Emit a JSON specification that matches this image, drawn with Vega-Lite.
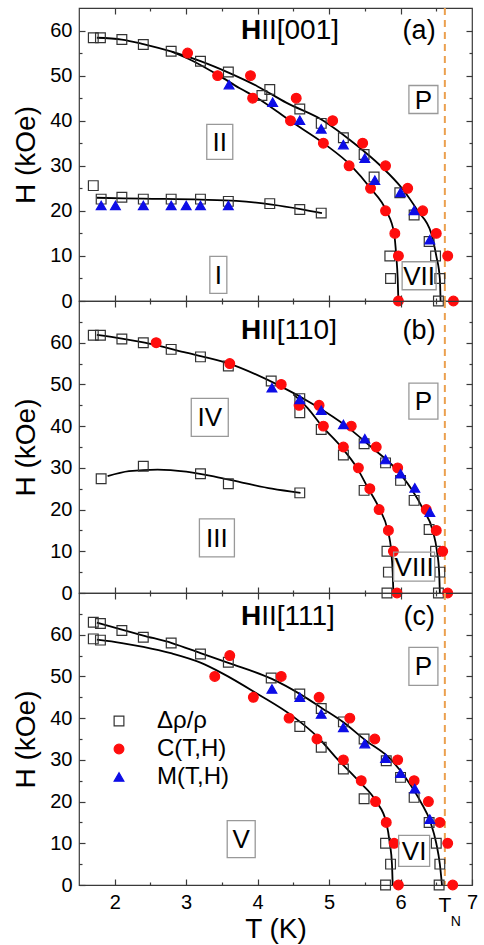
{
  "$schema": "https://vega.github.io/schema/vega-lite/v6.json",
  "background": "white",
  "padding": {"left": 12, "top": 6, "right": 4, "bottom": 4},
  "spacing": 0,
  "bounds": "flush",
  "config": {
    "font": "Liberation Sans",
    "view": {"stroke": "#3a3a3a", "strokeWidth": 1.2},
    "axis": {"grid": false, "domain": false, "labelFont": "Liberation Sans", "titleFont": "Liberation Sans", "labelColor": "#000", "titleColor": "#000", "tickColor": "#3a3a3a", "tickWidth": 1.2, "titleFontWeight": "normal", "labelOverlap": false, "labelFlush": false},
    "text": {"font": "Liberation Sans"}
  },
  "resolve": {"scale": {"y": "independent"}, "axis": {"x": "independent", "y": "independent"}},
  "datasets": {
    "tn": [{"T": 6.62}],
    "pts": [
      {"panel": "a", "series": "Δρ/ρ", "T": 1.70, "H": 58.4}, {"panel": "a", "series": "Δρ/ρ", "T": 1.80, "H": 58.4}, {"panel": "a", "series": "Δρ/ρ", "T": 2.10, "H": 58.0}, {"panel": "a", "series": "Δρ/ρ", "T": 2.40, "H": 56.9}, {"panel": "a", "series": "Δρ/ρ", "T": 2.79, "H": 55.4}, {"panel": "a", "series": "Δρ/ρ", "T": 3.20, "H": 53.2}, {"panel": "a", "series": "Δρ/ρ", "T": 3.59, "H": 50.8}, {"panel": "a", "series": "Δρ/ρ", "T": 4.06, "H": 45.6}, {"panel": "a", "series": "Δρ/ρ", "T": 4.17, "H": 46.9}, {"panel": "a", "series": "Δρ/ρ", "T": 4.59, "H": 42.6}, {"panel": "a", "series": "Δρ/ρ", "T": 4.89, "H": 39.4}, {"panel": "a", "series": "Δρ/ρ", "T": 5.20, "H": 36.2}, {"panel": "a", "series": "Δρ/ρ", "T": 5.49, "H": 32.5}, {"panel": "a", "series": "Δρ/ρ", "T": 5.63, "H": 27.5}, {"panel": "a", "series": "Δρ/ρ", "T": 5.99, "H": 24.0}, {"panel": "a", "series": "Δρ/ρ", "T": 6.19, "H": 19.1}, {"panel": "a", "series": "Δρ/ρ", "T": 6.40, "H": 13.2}, {"panel": "a", "series": "Δρ/ρ", "T": 6.49, "H": 10.0}, {"panel": "a", "series": "Δρ/ρ", "T": 6.55, "H": 5.0}, {"panel": "a", "series": "Δρ/ρ", "T": 6.53, "H": 0}, {"panel": "a", "series": "Δρ/ρ", "T": 5.85, "H": 10.0}, {"panel": "a", "series": "Δρ/ρ", "T": 5.86, "H": 5.0},
      {"panel": "a", "series": "Δρ/ρ", "T": 1.70, "H": 25.6}, {"panel": "a", "series": "Δρ/ρ", "T": 1.81, "H": 22.6}, {"panel": "a", "series": "Δρ/ρ", "T": 2.10, "H": 23.0}, {"panel": "a", "series": "Δρ/ρ", "T": 2.40, "H": 22.6}, {"panel": "a", "series": "Δρ/ρ", "T": 2.79, "H": 22.6}, {"panel": "a", "series": "Δρ/ρ", "T": 3.20, "H": 22.6}, {"panel": "a", "series": "Δρ/ρ", "T": 3.59, "H": 22.1}, {"panel": "a", "series": "Δρ/ρ", "T": 4.17, "H": 21.6}, {"panel": "a", "series": "Δρ/ρ", "T": 4.59, "H": 20.3}, {"panel": "a", "series": "Δρ/ρ", "T": 4.89, "H": 19.5},
      {"panel": "a", "series": "C(T,H)", "T": 3.02, "H": 55}, {"panel": "a", "series": "C(T,H)", "T": 3.44, "H": 50}, {"panel": "a", "series": "C(T,H)", "T": 3.90, "H": 50}, {"panel": "a", "series": "C(T,H)", "T": 3.93, "H": 45}, {"panel": "a", "series": "C(T,H)", "T": 4.54, "H": 45}, {"panel": "a", "series": "C(T,H)", "T": 4.46, "H": 40}, {"panel": "a", "series": "C(T,H)", "T": 5.05, "H": 40}, {"panel": "a", "series": "C(T,H)", "T": 4.92, "H": 35}, {"panel": "a", "series": "C(T,H)", "T": 5.47, "H": 35}, {"panel": "a", "series": "C(T,H)", "T": 5.28, "H": 30}, {"panel": "a", "series": "C(T,H)", "T": 5.79, "H": 30}, {"panel": "a", "series": "C(T,H)", "T": 5.58, "H": 25}, {"panel": "a", "series": "C(T,H)", "T": 6.10, "H": 25}, {"panel": "a", "series": "C(T,H)", "T": 5.79, "H": 20}, {"panel": "a", "series": "C(T,H)", "T": 6.31, "H": 20}, {"panel": "a", "series": "C(T,H)", "T": 5.92, "H": 15}, {"panel": "a", "series": "C(T,H)", "T": 6.50, "H": 15}, {"panel": "a", "series": "C(T,H)", "T": 5.97, "H": 10}, {"panel": "a", "series": "C(T,H)", "T": 6.66, "H": 10}, {"panel": "a", "series": "C(T,H)", "T": 5.97, "H": 0}, {"panel": "a", "series": "C(T,H)", "T": 6.74, "H": 0},
      {"panel": "a", "series": "M(T,H)", "T": 3.60, "H": 48.0}, {"panel": "a", "series": "M(T,H)", "T": 4.21, "H": 44.1}, {"panel": "a", "series": "M(T,H)", "T": 4.59, "H": 40.1}, {"panel": "a", "series": "M(T,H)", "T": 4.89, "H": 38.2}, {"panel": "a", "series": "M(T,H)", "T": 5.20, "H": 34.7}, {"panel": "a", "series": "M(T,H)", "T": 5.50, "H": 31.7}, {"panel": "a", "series": "M(T,H)", "T": 5.64, "H": 26.8}, {"panel": "a", "series": "M(T,H)", "T": 6.00, "H": 24.1}, {"panel": "a", "series": "M(T,H)", "T": 6.19, "H": 20.1}, {"panel": "a", "series": "M(T,H)", "T": 6.41, "H": 13.6},
      {"panel": "a", "series": "M(T,H)", "T": 1.81, "H": 21.2}, {"panel": "a", "series": "M(T,H)", "T": 2.01, "H": 21.2}, {"panel": "a", "series": "M(T,H)", "T": 2.40, "H": 21.2}, {"panel": "a", "series": "M(T,H)", "T": 2.79, "H": 21.2}, {"panel": "a", "series": "M(T,H)", "T": 3.00, "H": 21.2}, {"panel": "a", "series": "M(T,H)", "T": 3.20, "H": 21.2}, {"panel": "a", "series": "M(T,H)", "T": 3.59, "H": 21.2},

      {"panel": "b", "series": "Δρ/ρ", "T": 1.70, "H": 61.8}, {"panel": "b", "series": "Δρ/ρ", "T": 1.80, "H": 61.8}, {"panel": "b", "series": "Δρ/ρ", "T": 2.10, "H": 60.9}, {"panel": "b", "series": "Δρ/ρ", "T": 2.40, "H": 60.0}, {"panel": "b", "series": "Δρ/ρ", "T": 2.79, "H": 58.4}, {"panel": "b", "series": "Δρ/ρ", "T": 3.20, "H": 56.6}, {"panel": "b", "series": "Δρ/ρ", "T": 3.59, "H": 54.4}, {"panel": "b", "series": "Δρ/ρ", "T": 4.19, "H": 50.8}, {"panel": "b", "series": "Δρ/ρ", "T": 4.59, "H": 46.6}, {"panel": "b", "series": "Δρ/ρ", "T": 5.49, "H": 35.8}, {"panel": "b", "series": "Δρ/ρ", "T": 5.79, "H": 31.2}, {"panel": "b", "series": "Δρ/ρ", "T": 6.00, "H": 27.0}, {"panel": "b", "series": "Δρ/ρ", "T": 6.19, "H": 22.2}, {"panel": "b", "series": "Δρ/ρ", "T": 6.40, "H": 15.2}, {"panel": "b", "series": "Δρ/ρ", "T": 6.49, "H": 10.0}, {"panel": "b", "series": "Δρ/ρ", "T": 6.55, "H": 5.0}, {"panel": "b", "series": "Δρ/ρ", "T": 6.53, "H": 0},
      {"panel": "b", "series": "Δρ/ρ", "T": 4.59, "H": 43.2}, {"panel": "b", "series": "Δρ/ρ", "T": 4.89, "H": 39.2}, {"panel": "b", "series": "Δρ/ρ", "T": 5.20, "H": 33.1}, {"panel": "b", "series": "Δρ/ρ", "T": 5.49, "H": 24.6}, {"panel": "b", "series": "Δρ/ρ", "T": 5.81, "H": 10.0}, {"panel": "b", "series": "Δρ/ρ", "T": 5.83, "H": 5.0}, {"panel": "b", "series": "Δρ/ρ", "T": 5.81, "H": 0},
      {"panel": "b", "series": "Δρ/ρ", "T": 1.81, "H": 27.4}, {"panel": "b", "series": "Δρ/ρ", "T": 2.40, "H": 30.4}, {"panel": "b", "series": "Δρ/ρ", "T": 3.20, "H": 28.6}, {"panel": "b", "series": "Δρ/ρ", "T": 3.59, "H": 26.2}, {"panel": "b", "series": "Δρ/ρ", "T": 4.59, "H": 24.0},
      {"panel": "b", "series": "C(T,H)", "T": 2.58, "H": 60}, {"panel": "b", "series": "C(T,H)", "T": 3.61, "H": 55}, {"panel": "b", "series": "C(T,H)", "T": 4.33, "H": 50}, {"panel": "b", "series": "C(T,H)", "T": 4.58, "H": 45}, {"panel": "b", "series": "C(T,H)", "T": 4.86, "H": 45}, {"panel": "b", "series": "C(T,H)", "T": 4.92, "H": 40}, {"panel": "b", "series": "C(T,H)", "T": 5.31, "H": 40}, {"panel": "b", "series": "C(T,H)", "T": 5.20, "H": 35}, {"panel": "b", "series": "C(T,H)", "T": 5.66, "H": 35}, {"panel": "b", "series": "C(T,H)", "T": 5.41, "H": 30}, {"panel": "b", "series": "C(T,H)", "T": 5.96, "H": 30}, {"panel": "b", "series": "C(T,H)", "T": 5.57, "H": 25}, {"panel": "b", "series": "C(T,H)", "T": 5.70, "H": 20}, {"panel": "b", "series": "C(T,H)", "T": 6.36, "H": 20}, {"panel": "b", "series": "C(T,H)", "T": 5.83, "H": 15}, {"panel": "b", "series": "C(T,H)", "T": 6.50, "H": 15}, {"panel": "b", "series": "C(T,H)", "T": 5.90, "H": 10}, {"panel": "b", "series": "C(T,H)", "T": 6.59, "H": 10}, {"panel": "b", "series": "C(T,H)", "T": 5.95, "H": 0}, {"panel": "b", "series": "C(T,H)", "T": 6.66, "H": 0},
      {"panel": "b", "series": "M(T,H)", "T": 4.20, "H": 49.2}, {"panel": "b", "series": "M(T,H)", "T": 4.59, "H": 46.4}, {"panel": "b", "series": "M(T,H)", "T": 4.89, "H": 43.8}, {"panel": "b", "series": "M(T,H)", "T": 5.20, "H": 40.4}, {"panel": "b", "series": "M(T,H)", "T": 5.50, "H": 37.0}, {"panel": "b", "series": "M(T,H)", "T": 5.79, "H": 32.0}, {"panel": "b", "series": "M(T,H)", "T": 6.00, "H": 28.6}, {"panel": "b", "series": "M(T,H)", "T": 6.20, "H": 25.2}, {"panel": "b", "series": "M(T,H)", "T": 6.41, "H": 19.4},

      {"panel": "c", "series": "Δρ/ρ", "T": 1.70, "H": 63.0}, {"panel": "c", "series": "Δρ/ρ", "T": 1.80, "H": 62.7}, {"panel": "c", "series": "Δρ/ρ", "T": 2.10, "H": 61.0}, {"panel": "c", "series": "Δρ/ρ", "T": 2.40, "H": 59.4}, {"panel": "c", "series": "Δρ/ρ", "T": 2.79, "H": 58.0}, {"panel": "c", "series": "Δρ/ρ", "T": 3.20, "H": 55.4}, {"panel": "c", "series": "Δρ/ρ", "T": 3.59, "H": 53.4}, {"panel": "c", "series": "Δρ/ρ", "T": 4.19, "H": 49.6}, {"panel": "c", "series": "Δρ/ρ", "T": 4.59, "H": 45.8}, {"panel": "c", "series": "Δρ/ρ", "T": 4.89, "H": 42.3}, {"panel": "c", "series": "Δρ/ρ", "T": 5.20, "H": 39.1}, {"panel": "c", "series": "Δρ/ρ", "T": 5.49, "H": 35.0}, {"panel": "c", "series": "Δρ/ρ", "T": 5.80, "H": 29.8}, {"panel": "c", "series": "Δρ/ρ", "T": 6.00, "H": 25.8}, {"panel": "c", "series": "Δρ/ρ", "T": 6.19, "H": 21.0}, {"panel": "c", "series": "Δρ/ρ", "T": 6.40, "H": 15.0}, {"panel": "c", "series": "Δρ/ρ", "T": 6.50, "H": 10.0}, {"panel": "c", "series": "Δρ/ρ", "T": 6.55, "H": 5.0}, {"panel": "c", "series": "Δρ/ρ", "T": 6.54, "H": 0},
      {"panel": "c", "series": "Δρ/ρ", "T": 1.70, "H": 59.0}, {"panel": "c", "series": "Δρ/ρ", "T": 1.80, "H": 58.7}, {"panel": "c", "series": "Δρ/ρ", "T": 4.59, "H": 38.0}, {"panel": "c", "series": "Δρ/ρ", "T": 4.89, "H": 33.0}, {"panel": "c", "series": "Δρ/ρ", "T": 5.20, "H": 27.8}, {"panel": "c", "series": "Δρ/ρ", "T": 5.49, "H": 20.7}, {"panel": "c", "series": "Δρ/ρ", "T": 5.79, "H": 10.0}, {"panel": "c", "series": "Δρ/ρ", "T": 5.86, "H": 5.0}, {"panel": "c", "series": "Δρ/ρ", "T": 5.79, "H": 0},
      {"panel": "c", "series": "C(T,H)", "T": 3.61, "H": 55}, {"panel": "c", "series": "C(T,H)", "T": 3.40, "H": 50}, {"panel": "c", "series": "C(T,H)", "T": 4.33, "H": 50}, {"panel": "c", "series": "C(T,H)", "T": 3.94, "H": 45}, {"panel": "c", "series": "C(T,H)", "T": 4.86, "H": 45}, {"panel": "c", "series": "C(T,H)", "T": 4.44, "H": 40}, {"panel": "c", "series": "C(T,H)", "T": 5.29, "H": 40}, {"panel": "c", "series": "C(T,H)", "T": 4.83, "H": 35}, {"panel": "c", "series": "C(T,H)", "T": 5.64, "H": 35}, {"panel": "c", "series": "C(T,H)", "T": 5.20, "H": 30}, {"panel": "c", "series": "C(T,H)", "T": 5.96, "H": 30}, {"panel": "c", "series": "C(T,H)", "T": 5.45, "H": 25}, {"panel": "c", "series": "C(T,H)", "T": 6.19, "H": 25}, {"panel": "c", "series": "C(T,H)", "T": 5.65, "H": 20}, {"panel": "c", "series": "C(T,H)", "T": 6.39, "H": 20}, {"panel": "c", "series": "C(T,H)", "T": 5.80, "H": 15}, {"panel": "c", "series": "C(T,H)", "T": 6.55, "H": 15}, {"panel": "c", "series": "C(T,H)", "T": 5.91, "H": 10}, {"panel": "c", "series": "C(T,H)", "T": 6.66, "H": 10}, {"panel": "c", "series": "C(T,H)", "T": 5.97, "H": 0}, {"panel": "c", "series": "C(T,H)", "T": 6.73, "H": 0},
      {"panel": "c", "series": "M(T,H)", "T": 4.20, "H": 47.0}, {"panel": "c", "series": "M(T,H)", "T": 4.59, "H": 45.0}, {"panel": "c", "series": "M(T,H)", "T": 4.89, "H": 41.0}, {"panel": "c", "series": "M(T,H)", "T": 5.20, "H": 37.8}, {"panel": "c", "series": "M(T,H)", "T": 5.50, "H": 33.9}, {"panel": "c", "series": "M(T,H)", "T": 5.79, "H": 30.4}, {"panel": "c", "series": "M(T,H)", "T": 6.00, "H": 26.8}, {"panel": "c", "series": "M(T,H)", "T": 6.20, "H": 23.1}, {"panel": "c", "series": "M(T,H)", "T": 6.41, "H": 15.8}
    ],
    "curves": [
      {"panel": "a", "curve": "upper", "T": 1.75, "H": 58.4}, {"panel": "a", "curve": "upper", "T": 2.1, "H": 58.0}, {"panel": "a", "curve": "upper", "T": 2.4, "H": 57.0}, {"panel": "a", "curve": "upper", "T": 2.8, "H": 55.3}, {"panel": "a", "curve": "upper", "T": 3.2, "H": 53.2}, {"panel": "a", "curve": "upper", "T": 3.6, "H": 50.6}, {"panel": "a", "curve": "upper", "T": 4.0, "H": 47.6}, {"panel": "a", "curve": "upper", "T": 4.4, "H": 44.0}, {"panel": "a", "curve": "upper", "T": 4.92, "H": 40.0}, {"panel": "a", "curve": "upper", "T": 5.35, "H": 35.0}, {"panel": "a", "curve": "upper", "T": 5.72, "H": 30.0}, {"panel": "a", "curve": "upper", "T": 6.02, "H": 25.0}, {"panel": "a", "curve": "upper", "T": 6.24, "H": 20.0}, {"panel": "a", "curve": "upper", "T": 6.43, "H": 15.0}, {"panel": "a", "curve": "upper", "T": 6.50, "H": 10.0}, {"panel": "a", "curve": "upper", "T": 6.55, "H": 5.0}, {"panel": "a", "curve": "upper", "T": 6.56, "H": 0},
      {"panel": "a", "curve": "lower", "T": 2.8, "H": 55.3}, {"panel": "a", "curve": "lower", "T": 3.1, "H": 53.2}, {"panel": "a", "curve": "lower", "T": 3.46, "H": 50.0}, {"panel": "a", "curve": "lower", "T": 3.75, "H": 47.2}, {"panel": "a", "curve": "lower", "T": 4.0, "H": 45.0}, {"panel": "a", "curve": "lower", "T": 4.47, "H": 39.8}, {"panel": "a", "curve": "lower", "T": 4.94, "H": 34.8}, {"panel": "a", "curve": "lower", "T": 5.31, "H": 30.0}, {"panel": "a", "curve": "lower", "T": 5.58, "H": 25.0}, {"panel": "a", "curve": "lower", "T": 5.80, "H": 20.0}, {"panel": "a", "curve": "lower", "T": 5.91, "H": 15.0}, {"panel": "a", "curve": "lower", "T": 5.94, "H": 10.0}, {"panel": "a", "curve": "lower", "T": 5.96, "H": 5.0}, {"panel": "a", "curve": "lower", "T": 5.97, "H": 0},
      {"panel": "a", "curve": "low", "T": 1.75, "H": 22.9}, {"panel": "a", "curve": "low", "T": 2.4, "H": 22.7}, {"panel": "a", "curve": "low", "T": 3.2, "H": 22.5}, {"panel": "a", "curve": "low", "T": 3.7, "H": 22.2}, {"panel": "a", "curve": "low", "T": 4.2, "H": 21.4}, {"panel": "a", "curve": "low", "T": 4.6, "H": 20.4}, {"panel": "a", "curve": "low", "T": 4.9, "H": 19.5},
      {"panel": "b", "curve": "upper", "T": 1.75, "H": 61.9}, {"panel": "b", "curve": "upper", "T": 2.1, "H": 61.0}, {"panel": "b", "curve": "upper", "T": 2.42, "H": 60.0}, {"panel": "b", "curve": "upper", "T": 3.0, "H": 57.6}, {"panel": "b", "curve": "upper", "T": 3.6, "H": 55.0}, {"panel": "b", "curve": "upper", "T": 4.27, "H": 50.0}, {"panel": "b", "curve": "upper", "T": 4.8, "H": 45.0}, {"panel": "b", "curve": "upper", "T": 5.24, "H": 40.0}, {"panel": "b", "curve": "upper", "T": 5.59, "H": 35.0}, {"panel": "b", "curve": "upper", "T": 5.92, "H": 30.0}, {"panel": "b", "curve": "upper", "T": 6.15, "H": 25.0}, {"panel": "b", "curve": "upper", "T": 6.32, "H": 20.0}, {"panel": "b", "curve": "upper", "T": 6.45, "H": 15.0}, {"panel": "b", "curve": "upper", "T": 6.51, "H": 10.0}, {"panel": "b", "curve": "upper", "T": 6.54, "H": 5.0}, {"panel": "b", "curve": "upper", "T": 6.55, "H": 0},
      {"panel": "b", "curve": "lower", "T": 4.5, "H": 47.6}, {"panel": "b", "curve": "lower", "T": 4.7, "H": 44.3}, {"panel": "b", "curve": "lower", "T": 4.9, "H": 40.0}, {"panel": "b", "curve": "lower", "T": 5.17, "H": 35.0}, {"panel": "b", "curve": "lower", "T": 5.39, "H": 30.0}, {"panel": "b", "curve": "lower", "T": 5.55, "H": 25.0}, {"panel": "b", "curve": "lower", "T": 5.71, "H": 20.0}, {"panel": "b", "curve": "lower", "T": 5.82, "H": 15.0}, {"panel": "b", "curve": "lower", "T": 5.87, "H": 10.0}, {"panel": "b", "curve": "lower", "T": 5.89, "H": 5.0}, {"panel": "b", "curve": "lower", "T": 5.90, "H": 0},
      {"panel": "b", "curve": "low", "T": 1.9, "H": 28.0}, {"panel": "b", "curve": "low", "T": 2.2, "H": 29.2}, {"panel": "b", "curve": "low", "T": 2.6, "H": 29.6}, {"panel": "b", "curve": "low", "T": 3.0, "H": 29.1}, {"panel": "b", "curve": "low", "T": 3.4, "H": 27.9}, {"panel": "b", "curve": "low", "T": 3.8, "H": 26.4}, {"panel": "b", "curve": "low", "T": 4.2, "H": 25.0}, {"panel": "b", "curve": "low", "T": 4.6, "H": 24.0},
      {"panel": "c", "curve": "upper", "T": 1.75, "H": 62.9}, {"panel": "c", "curve": "upper", "T": 2.1, "H": 61.2}, {"panel": "c", "curve": "upper", "T": 2.4, "H": 59.8}, {"panel": "c", "curve": "upper", "T": 2.8, "H": 58.0}, {"panel": "c", "curve": "upper", "T": 3.2, "H": 55.6}, {"panel": "c", "curve": "upper", "T": 3.6, "H": 53.2}, {"panel": "c", "curve": "upper", "T": 4.2, "H": 49.4}, {"panel": "c", "curve": "upper", "T": 4.6, "H": 45.7}, {"panel": "c", "curve": "upper", "T": 4.9, "H": 42.4}, {"panel": "c", "curve": "upper", "T": 5.2, "H": 39.0}, {"panel": "c", "curve": "upper", "T": 5.5, "H": 34.8}, {"panel": "c", "curve": "upper", "T": 5.87, "H": 30.0}, {"panel": "c", "curve": "upper", "T": 6.1, "H": 25.0}, {"panel": "c", "curve": "upper", "T": 6.28, "H": 20.0}, {"panel": "c", "curve": "upper", "T": 6.42, "H": 15.0}, {"panel": "c", "curve": "upper", "T": 6.50, "H": 10.0}, {"panel": "c", "curve": "upper", "T": 6.55, "H": 5.0}, {"panel": "c", "curve": "upper", "T": 6.58, "H": 0},
      {"panel": "c", "curve": "lower", "T": 1.75, "H": 58.8}, {"panel": "c", "curve": "lower", "T": 2.1, "H": 58.0}, {"panel": "c", "curve": "lower", "T": 2.4, "H": 57.1}, {"panel": "c", "curve": "lower", "T": 2.8, "H": 55.5}, {"panel": "c", "curve": "lower", "T": 3.2, "H": 53.3}, {"panel": "c", "curve": "lower", "T": 3.5, "H": 50.8}, {"panel": "c", "curve": "lower", "T": 4.0, "H": 45.8}, {"panel": "c", "curve": "lower", "T": 4.48, "H": 40.6}, {"panel": "c", "curve": "lower", "T": 4.85, "H": 35.3}, {"panel": "c", "curve": "lower", "T": 5.1, "H": 30.5}, {"panel": "c", "curve": "lower", "T": 5.41, "H": 25.0}, {"panel": "c", "curve": "lower", "T": 5.66, "H": 20.0}, {"panel": "c", "curve": "lower", "T": 5.80, "H": 15.0}, {"panel": "c", "curve": "lower", "T": 5.85, "H": 10.0}, {"panel": "c", "curve": "lower", "T": 5.88, "H": 5.0}, {"panel": "c", "curve": "lower", "T": 5.89, "H": 0}
    ],
    "phases": [
      {"panel": "a", "text": "II", "T": 3.47, "H": 35.3}, {"panel": "a", "text": "I", "T": 3.45, "H": 5.8}, {"panel": "a", "text": "VII", "T": 6.26, "H": 5.6}, {"panel": "a", "text": "P", "T": 6.32, "H": 44.7},
      {"panel": "b", "text": "IV", "T": 3.33, "H": 42.1}, {"panel": "b", "text": "III", "T": 3.43, "H": 13.2}, {"panel": "b", "text": "VIII", "T": 6.19, "H": 6.3}, {"panel": "b", "text": "P", "T": 6.32, "H": 46.0},
      {"panel": "c", "text": "V", "T": 3.77, "H": 11.0}, {"panel": "c", "text": "VI", "T": 6.19, "H": 8.2}, {"panel": "c", "text": "P", "T": 6.32, "H": 52.4}
    ],
    "heads": [
      {"panel": "a", "dir": "II[001]", "tag": "(a)", "T": 4.05, "Ttag": 6.26, "H": 59.9},
      {"panel": "b", "dir": "II[110]", "tag": "(b)", "T": 4.05, "Ttag": 6.26, "H": 62.9},
      {"panel": "c", "dir": "II[111]", "tag": "(c)", "T": 4.05, "Ttag": 6.26, "H": 64.2}
    ]
  },
  "vconcat": [
    {
      "width": 393, "height": 293,
      "layer": [
        {"data": {"name": "tn"}, "mark": {"type": "rule", "color": "#EBA04E", "strokeDash": [7, 5], "strokeWidth": 2},
         "encoding": {"x": {"field": "T", "type": "quantitative", "scale": {"domain": [1.5, 7], "nice": false, "zero": false}, "axis": null}}},
        {"data": {"name": "curves"}, "transform": [{"filter": "datum.panel === 'a'"}],
         "mark": {"type": "line", "color": "#000", "strokeWidth": 1.8, "interpolate": "monotone"},
         "encoding": {
           "x": {"field": "T", "type": "quantitative", "scale": {"domain": [1.5, 7], "nice": false, "zero": false},
                 "axis": {"orient": "bottom", "values": [2, 2.5, 3, 3.5, 4, 4.5, 5, 5.5, 6, 6.5], "labels": false, "title": null, "tickSize": {"condition": {"test": "datum.value % 1 != 0", "value": -3}, "value": -6}}},
           "y": {"field": "H", "type": "quantitative", "scale": {"domain": [0, 65], "nice": false, "zero": false},
                 "axis": {"orient": "left", "values": [0, 5, 10, 15, 20, 25, 30, 35, 40, 45, 50, 55, 60], "labelExpr": "datum.value % 10 == 0 ? datum.label : ''", "tickSize": {"condition": {"test": "datum.value % 10 != 0", "value": -3}, "value": -6}, "labelPadding": 13, "labelFontSize": 20, "title": "H (kOe)", "titleFontSize": 28, "titlePadding": 9}},
           "detail": {"field": "curve", "type": "nominal"}}},
        {"data": {"name": "pts"}, "transform": [{"filter": "datum.panel === 'a'"}],
         "mark": {"type": "point", "size": 95, "strokeWidth": 1.2, "opacity": 1},
         "encoding": {
           "x": {"field": "T", "type": "quantitative", "scale": {"domain": [1.5, 7], "nice": false, "zero": false},
                 "axis": {"orient": "top", "values": [2, 2.5, 3, 3.5, 4, 4.5, 5, 5.5, 6, 6.5], "labels": false, "title": null, "tickSize": {"condition": {"test": "datum.value % 1 != 0", "value": -3}, "value": -6}}},
           "y": {"field": "H", "type": "quantitative", "scale": {"domain": [0, 65], "nice": false, "zero": false},
                 "axis": {"orient": "right", "values": [5, 10, 15, 20, 25, 30, 35, 40, 45, 50, 55, 60], "labels": false, "title": null, "tickSize": {"condition": {"test": "datum.value % 10 != 0", "value": -3}, "value": -6}}},
           "shape": {"field": "series", "type": "nominal", "scale": {"domain": ["Δρ/ρ", "C(T,H)", "M(T,H)"], "range": ["square", "circle", "triangle-up"]},
                     "legend": {"title": null, "orient": "none", "legendX": 28, "legendY": 701, "labelFontSize": 24, "labelFont": "Liberation Sans", "symbolSize": 95, "symbolStrokeWidth": 1.2, "rowPadding": 4, "labelOffset": 26, "padding": 0}},
           "fill": {"field": "series", "type": "nominal", "scale": {"domain": ["Δρ/ρ", "C(T,H)", "M(T,H)"], "range": ["transparent", "#ff0d0d", "#0d0de6"]},
                    "legend": {"title": null, "orient": "none", "legendX": 28, "legendY": 701, "labelFontSize": 24, "labelFont": "Liberation Sans", "symbolSize": 95, "symbolStrokeWidth": 1.2, "rowPadding": 4, "labelOffset": 26, "padding": 0}},
           "stroke": {"field": "series", "type": "nominal", "scale": {"domain": ["Δρ/ρ", "C(T,H)", "M(T,H)"], "range": ["#333333", "#ff0d0d", "#0d0de6"]},
                      "legend": {"title": null, "orient": "none", "legendX": 28, "legendY": 701, "labelFontSize": 24, "labelFont": "Liberation Sans", "symbolSize": 95, "symbolStrokeWidth": 1.2, "rowPadding": 4, "labelOffset": 26, "padding": 0}}}},
        {"data": {"name": "phases"}, "transform": [{"filter": "datum.panel === 'a' && datum.text === 'II'"}],
         "mark": {"type": "point", "shape": "M-0.65,-0.875L0.65,-0.875L0.65,0.875L-0.65,0.875Z", "size": 1600, "stroke": "#999", "strokeWidth": 1.3, "filled": false, "opacity": 1},
         "encoding": {"x": {"field": "T", "type": "quantitative", "axis": null}, "y": {"field": "H", "type": "quantitative", "axis": null}}},
        {"data": {"name": "phases"}, "transform": [{"filter": "datum.panel === 'a' && datum.text === 'I'"}],
         "mark": {"type": "point", "shape": "M-0.425,-0.925L0.425,-0.925L0.425,0.925L-0.425,0.925Z", "size": 1600, "stroke": "#999", "strokeWidth": 1.3, "filled": false, "opacity": 1},
         "encoding": {"x": {"field": "T", "type": "quantitative", "axis": null}, "y": {"field": "H", "type": "quantitative", "axis": null}}},
        {"data": {"name": "phases"}, "transform": [{"filter": "datum.panel === 'a' && datum.text === 'VII'"}],
         "mark": {"type": "point", "shape": "M-0.85,-0.7L0.85,-0.7L0.85,0.7L-0.85,0.7Z", "size": 1600, "stroke": "#999", "strokeWidth": 1.3, "filled": false, "opacity": 1},
         "encoding": {"x": {"field": "T", "type": "quantitative", "axis": null}, "y": {"field": "H", "type": "quantitative", "axis": null}}},
        {"data": {"name": "phases"}, "transform": [{"filter": "datum.panel === 'a' && datum.text === 'P'"}],
         "mark": {"type": "point", "shape": "M-0.725,-0.7L0.725,-0.7L0.725,0.7L-0.725,0.7Z", "size": 1600, "stroke": "#999", "strokeWidth": 1.3, "filled": false, "opacity": 1},
         "encoding": {"x": {"field": "T", "type": "quantitative", "axis": null}, "y": {"field": "H", "type": "quantitative", "axis": null}}},
        {"data": {"name": "phases"}, "transform": [{"filter": "datum.panel === 'a'"}],
         "mark": {"type": "text", "fontSize": 26, "baseline": "middle", "align": "center", "dy": 1},
         "encoding": {"x": {"field": "T", "type": "quantitative", "axis": null}, "y": {"field": "H", "type": "quantitative", "axis": null}, "text": {"field": "text"}}},
        {"data": {"name": "heads"}, "transform": [{"filter": "datum.panel === 'a'"}],
         "mark": {"type": "text", "text": "H", "fontSize": 28, "fontWeight": "bold", "baseline": "middle", "align": "right"},
         "encoding": {"x": {"field": "T", "type": "quantitative", "axis": null}, "y": {"field": "H", "type": "quantitative", "axis": null}}},
        {"data": {"name": "heads"}, "transform": [{"filter": "datum.panel === 'a'"}],
         "mark": {"type": "text", "fontSize": 28, "baseline": "middle", "align": "left"},
         "encoding": {"x": {"field": "T", "type": "quantitative", "axis": null}, "y": {"field": "H", "type": "quantitative", "axis": null}, "text": {"field": "dir"}}},
        {"data": {"name": "heads"}, "transform": [{"filter": "datum.panel === 'a'"}],
         "mark": {"type": "text", "fontSize": 27, "baseline": "middle", "align": "center"},
         "encoding": {"x": {"field": "Ttag", "type": "quantitative", "axis": null}, "y": {"field": "H", "type": "quantitative", "axis": null}, "text": {"field": "tag"}}}
      ]
    },
    {
      "width": 393, "height": 292,
      "layer": [
        {"data": {"name": "tn"}, "mark": {"type": "rule", "color": "#EBA04E", "strokeDash": [7, 5], "strokeWidth": 2},
         "encoding": {"x": {"field": "T", "type": "quantitative", "scale": {"domain": [1.5, 7], "nice": false, "zero": false}, "axis": null}}},
        {"data": {"name": "curves"}, "transform": [{"filter": "datum.panel === 'b'"}],
         "mark": {"type": "line", "color": "#000", "strokeWidth": 1.8, "interpolate": "monotone"},
         "encoding": {
           "x": {"field": "T", "type": "quantitative", "scale": {"domain": [1.5, 7], "nice": false, "zero": false},
                 "axis": {"orient": "bottom", "values": [2, 2.5, 3, 3.5, 4, 4.5, 5, 5.5, 6, 6.5], "labels": false, "title": null, "tickSize": {"condition": {"test": "datum.value % 1 != 0", "value": -3}, "value": -6}}},
           "y": {"field": "H", "type": "quantitative", "scale": {"domain": [0, 70], "nice": false, "zero": false},
                 "axis": {"orient": "left", "values": [0, 5, 10, 15, 20, 25, 30, 35, 40, 45, 50, 55, 60, 65], "labelExpr": "datum.value % 10 == 0 ? datum.label : ''", "tickSize": {"condition": {"test": "datum.value % 10 != 0", "value": -3}, "value": -6}, "labelPadding": 13, "labelFontSize": 20, "title": "H (kOe)", "titleFontSize": 28, "titlePadding": 9}},
           "detail": {"field": "curve", "type": "nominal"}}},
        {"data": {"name": "pts"}, "transform": [{"filter": "datum.panel === 'b'"}],
         "mark": {"type": "point", "size": 95, "strokeWidth": 1.2, "opacity": 1},
         "encoding": {
           "x": {"field": "T", "type": "quantitative", "scale": {"domain": [1.5, 7], "nice": false, "zero": false},
                 "axis": {"orient": "top", "values": [2, 2.5, 3, 3.5, 4, 4.5, 5, 5.5, 6, 6.5], "labels": false, "title": null, "tickSize": {"condition": {"test": "datum.value % 1 != 0", "value": -3}, "value": -6}}},
           "y": {"field": "H", "type": "quantitative", "scale": {"domain": [0, 70], "nice": false, "zero": false},
                 "axis": {"orient": "right", "values": [5, 10, 15, 20, 25, 30, 35, 40, 45, 50, 55, 60, 65], "labels": false, "title": null, "tickSize": {"condition": {"test": "datum.value % 10 != 0", "value": -3}, "value": -6}}},
           "shape": {"field": "series", "type": "nominal", "scale": {"domain": ["Δρ/ρ", "C(T,H)", "M(T,H)"], "range": ["square", "circle", "triangle-up"]},
                     "legend": {"title": null, "orient": "none", "legendX": 28, "legendY": 701, "labelFontSize": 24, "labelFont": "Liberation Sans", "symbolSize": 95, "symbolStrokeWidth": 1.2, "rowPadding": 4, "labelOffset": 26, "padding": 0}},
           "fill": {"field": "series", "type": "nominal", "scale": {"domain": ["Δρ/ρ", "C(T,H)", "M(T,H)"], "range": ["transparent", "#ff0d0d", "#0d0de6"]},
                    "legend": {"title": null, "orient": "none", "legendX": 28, "legendY": 701, "labelFontSize": 24, "labelFont": "Liberation Sans", "symbolSize": 95, "symbolStrokeWidth": 1.2, "rowPadding": 4, "labelOffset": 26, "padding": 0}},
           "stroke": {"field": "series", "type": "nominal", "scale": {"domain": ["Δρ/ρ", "C(T,H)", "M(T,H)"], "range": ["#333333", "#ff0d0d", "#0d0de6"]},
                      "legend": {"title": null, "orient": "none", "legendX": 28, "legendY": 701, "labelFontSize": 24, "labelFont": "Liberation Sans", "symbolSize": 95, "symbolStrokeWidth": 1.2, "rowPadding": 4, "labelOffset": 26, "padding": 0}}}},
        {"data": {"name": "phases"}, "transform": [{"filter": "datum.panel === 'b' && datum.text === 'IV'"}],
         "mark": {"type": "point", "shape": "M-0.925,-0.95L0.925,-0.95L0.925,0.95L-0.925,0.95Z", "size": 1600, "stroke": "#999", "strokeWidth": 1.3, "filled": false, "opacity": 1},
         "encoding": {"x": {"field": "T", "type": "quantitative", "axis": null}, "y": {"field": "H", "type": "quantitative", "axis": null}}},
        {"data": {"name": "phases"}, "transform": [{"filter": "datum.panel === 'b' && datum.text === 'III'"}],
         "mark": {"type": "point", "shape": "M-0.875,-0.95L0.875,-0.95L0.875,0.95L-0.875,0.95Z", "size": 1600, "stroke": "#999", "strokeWidth": 1.3, "filled": false, "opacity": 1},
         "encoding": {"x": {"field": "T", "type": "quantitative", "axis": null}, "y": {"field": "H", "type": "quantitative", "axis": null}}},
        {"data": {"name": "phases"}, "transform": [{"filter": "datum.panel === 'b' && datum.text === 'VIII'"}],
         "mark": {"type": "point", "shape": "M-1.025,-0.725L1.025,-0.725L1.025,0.725L-1.025,0.725Z", "size": 1600, "stroke": "#999", "strokeWidth": 1.3, "filled": false, "opacity": 1},
         "encoding": {"x": {"field": "T", "type": "quantitative", "axis": null}, "y": {"field": "H", "type": "quantitative", "axis": null}}},
        {"data": {"name": "phases"}, "transform": [{"filter": "datum.panel === 'b' && datum.text === 'P'"}],
         "mark": {"type": "point", "shape": "M-0.725,-0.9L0.725,-0.9L0.725,0.9L-0.725,0.9Z", "size": 1600, "stroke": "#999", "strokeWidth": 1.3, "filled": false, "opacity": 1},
         "encoding": {"x": {"field": "T", "type": "quantitative", "axis": null}, "y": {"field": "H", "type": "quantitative", "axis": null}}},
        {"data": {"name": "phases"}, "transform": [{"filter": "datum.panel === 'b'"}],
         "mark": {"type": "text", "fontSize": 26, "baseline": "middle", "align": "center", "dy": 1},
         "encoding": {"x": {"field": "T", "type": "quantitative", "axis": null}, "y": {"field": "H", "type": "quantitative", "axis": null}, "text": {"field": "text"}}},
        {"data": {"name": "heads"}, "transform": [{"filter": "datum.panel === 'b'"}],
         "mark": {"type": "text", "text": "H", "fontSize": 28, "fontWeight": "bold", "baseline": "middle", "align": "right"},
         "encoding": {"x": {"field": "T", "type": "quantitative", "axis": null}, "y": {"field": "H", "type": "quantitative", "axis": null}}},
        {"data": {"name": "heads"}, "transform": [{"filter": "datum.panel === 'b'"}],
         "mark": {"type": "text", "fontSize": 28, "baseline": "middle", "align": "left"},
         "encoding": {"x": {"field": "T", "type": "quantitative", "axis": null}, "y": {"field": "H", "type": "quantitative", "axis": null}, "text": {"field": "dir"}}},
        {"data": {"name": "heads"}, "transform": [{"filter": "datum.panel === 'b'"}],
         "mark": {"type": "text", "fontSize": 27, "baseline": "middle", "align": "center"},
         "encoding": {"x": {"field": "Ttag", "type": "quantitative", "axis": null}, "y": {"field": "H", "type": "quantitative", "axis": null}, "text": {"field": "tag"}}}
      ]
    },
    {
      "width": 393, "height": 292,
      "layer": [
        {"data": {"name": "tn"}, "mark": {"type": "rule", "color": "#EBA04E", "strokeDash": [7, 5], "strokeWidth": 2},
         "encoding": {"x": {"field": "T", "type": "quantitative", "scale": {"domain": [1.5, 7], "nice": false, "zero": false}, "axis": null}}},
        {"data": {"name": "tn"}, "mark": {"type": "text", "text": "T", "fontSize": 21, "baseline": "middle", "align": "center", "dy": 21},
         "encoding": {"x": {"field": "T", "type": "quantitative", "axis": null}, "y": {"datum": 0, "type": "quantitative", "axis": null}}},
        {"data": {"name": "tn"}, "mark": {"type": "text", "text": "N", "fontSize": 14, "baseline": "middle", "align": "center", "dx": 11, "dy": 37},
         "encoding": {"x": {"field": "T", "type": "quantitative", "axis": null}, "y": {"datum": 0, "type": "quantitative", "axis": null}}},
        {"data": {"name": "curves"}, "transform": [{"filter": "datum.panel === 'c'"}],
         "mark": {"type": "line", "color": "#000", "strokeWidth": 1.8, "interpolate": "monotone"},
         "encoding": {
           "x": {"field": "T", "type": "quantitative", "scale": {"domain": [1.5, 7], "nice": false, "zero": false},
                 "axis": {"orient": "bottom", "values": [2, 2.5, 3, 3.5, 4, 4.5, 5, 5.5, 6, 6.5, 7], "labelExpr": "datum.value % 1 == 0 ? '' + datum.value : ''", "labelFontSize": 20, "labelPadding": 13, "title": "T (K)", "titleFontSize": 28, "titlePadding": 0, "tickSize": {"condition": {"test": "datum.value % 1 != 0", "value": -3}, "value": -6}}},
           "y": {"field": "H", "type": "quantitative", "scale": {"domain": [0, 70], "nice": false, "zero": false},
                 "axis": {"orient": "left", "values": [0, 5, 10, 15, 20, 25, 30, 35, 40, 45, 50, 55, 60, 65], "labelExpr": "datum.value % 10 == 0 ? datum.label : ''", "tickSize": {"condition": {"test": "datum.value % 10 != 0", "value": -3}, "value": -6}, "labelPadding": 13, "labelFontSize": 20, "title": "H (kOe)", "titleFontSize": 28, "titlePadding": 9}},
           "detail": {"field": "curve", "type": "nominal"}}},
        {"data": {"name": "pts"}, "transform": [{"filter": "datum.panel === 'c'"}],
         "mark": {"type": "point", "size": 95, "strokeWidth": 1.2, "opacity": 1},
         "encoding": {
           "x": {"field": "T", "type": "quantitative", "scale": {"domain": [1.5, 7], "nice": false, "zero": false},
                 "axis": {"orient": "top", "values": [2, 2.5, 3, 3.5, 4, 4.5, 5, 5.5, 6, 6.5], "labels": false, "title": null, "tickSize": {"condition": {"test": "datum.value % 1 != 0", "value": -3}, "value": -6}}},
           "y": {"field": "H", "type": "quantitative", "scale": {"domain": [0, 70], "nice": false, "zero": false},
                 "axis": {"orient": "right", "values": [5, 10, 15, 20, 25, 30, 35, 40, 45, 50, 55, 60, 65], "labels": false, "title": null, "tickSize": {"condition": {"test": "datum.value % 10 != 0", "value": -3}, "value": -6}}},
           "shape": {"field": "series", "type": "nominal", "scale": {"domain": ["Δρ/ρ", "C(T,H)", "M(T,H)"], "range": ["square", "circle", "triangle-up"]},
                     "legend": {"title": null, "orient": "none", "legendX": 28, "legendY": 701, "labelFontSize": 24, "labelFont": "Liberation Sans", "symbolSize": 95, "symbolStrokeWidth": 1.2, "rowPadding": 4, "labelOffset": 26, "padding": 0}},
           "fill": {"field": "series", "type": "nominal", "scale": {"domain": ["Δρ/ρ", "C(T,H)", "M(T,H)"], "range": ["transparent", "#ff0d0d", "#0d0de6"]},
                    "legend": {"title": null, "orient": "none", "legendX": 28, "legendY": 701, "labelFontSize": 24, "labelFont": "Liberation Sans", "symbolSize": 95, "symbolStrokeWidth": 1.2, "rowPadding": 4, "labelOffset": 26, "padding": 0}},
           "stroke": {"field": "series", "type": "nominal", "scale": {"domain": ["Δρ/ρ", "C(T,H)", "M(T,H)"], "range": ["#333333", "#ff0d0d", "#0d0de6"]},
                      "legend": {"title": null, "orient": "none", "legendX": 28, "legendY": 701, "labelFontSize": 24, "labelFont": "Liberation Sans", "symbolSize": 95, "symbolStrokeWidth": 1.2, "rowPadding": 4, "labelOffset": 26, "padding": 0}}}},
        {"data": {"name": "phases"}, "transform": [{"filter": "datum.panel === 'c' && datum.text === 'V'"}],
         "mark": {"type": "point", "shape": "M-0.7,-0.925L0.7,-0.925L0.7,0.925L-0.7,0.925Z", "size": 1600, "stroke": "#999", "strokeWidth": 1.3, "filled": false, "opacity": 1},
         "encoding": {"x": {"field": "T", "type": "quantitative", "axis": null}, "y": {"field": "H", "type": "quantitative", "axis": null}}},
        {"data": {"name": "phases"}, "transform": [{"filter": "datum.panel === 'c' && datum.text === 'VI'"}],
         "mark": {"type": "point", "shape": "M-0.775,-0.775L0.775,-0.775L0.775,0.775L-0.775,0.775Z", "size": 1600, "stroke": "#999", "strokeWidth": 1.3, "filled": false, "opacity": 1},
         "encoding": {"x": {"field": "T", "type": "quantitative", "axis": null}, "y": {"field": "H", "type": "quantitative", "axis": null}}},
        {"data": {"name": "phases"}, "transform": [{"filter": "datum.panel === 'c' && datum.text === 'P'"}],
         "mark": {"type": "point", "shape": "M-0.725,-0.95L0.725,-0.95L0.725,0.95L-0.725,0.95Z", "size": 1600, "stroke": "#999", "strokeWidth": 1.3, "filled": false, "opacity": 1},
         "encoding": {"x": {"field": "T", "type": "quantitative", "axis": null}, "y": {"field": "H", "type": "quantitative", "axis": null}}},
        {"data": {"name": "phases"}, "transform": [{"filter": "datum.panel === 'c'"}],
         "mark": {"type": "text", "fontSize": 26, "baseline": "middle", "align": "center", "dy": 1},
         "encoding": {"x": {"field": "T", "type": "quantitative", "axis": null}, "y": {"field": "H", "type": "quantitative", "axis": null}, "text": {"field": "text"}}},
        {"data": {"name": "heads"}, "transform": [{"filter": "datum.panel === 'c'"}],
         "mark": {"type": "text", "text": "H", "fontSize": 28, "fontWeight": "bold", "baseline": "middle", "align": "right"},
         "encoding": {"x": {"field": "T", "type": "quantitative", "axis": null}, "y": {"field": "H", "type": "quantitative", "axis": null}}},
        {"data": {"name": "heads"}, "transform": [{"filter": "datum.panel === 'c'"}],
         "mark": {"type": "text", "fontSize": 28, "baseline": "middle", "align": "left"},
         "encoding": {"x": {"field": "T", "type": "quantitative", "axis": null}, "y": {"field": "H", "type": "quantitative", "axis": null}, "text": {"field": "dir"}}},
        {"data": {"name": "heads"}, "transform": [{"filter": "datum.panel === 'c'"}],
         "mark": {"type": "text", "fontSize": 27, "baseline": "middle", "align": "center"},
         "encoding": {"x": {"field": "Ttag", "type": "quantitative", "axis": null}, "y": {"field": "H", "type": "quantitative", "axis": null}, "text": {"field": "tag"}}}
      ]
    }
  ]
}
